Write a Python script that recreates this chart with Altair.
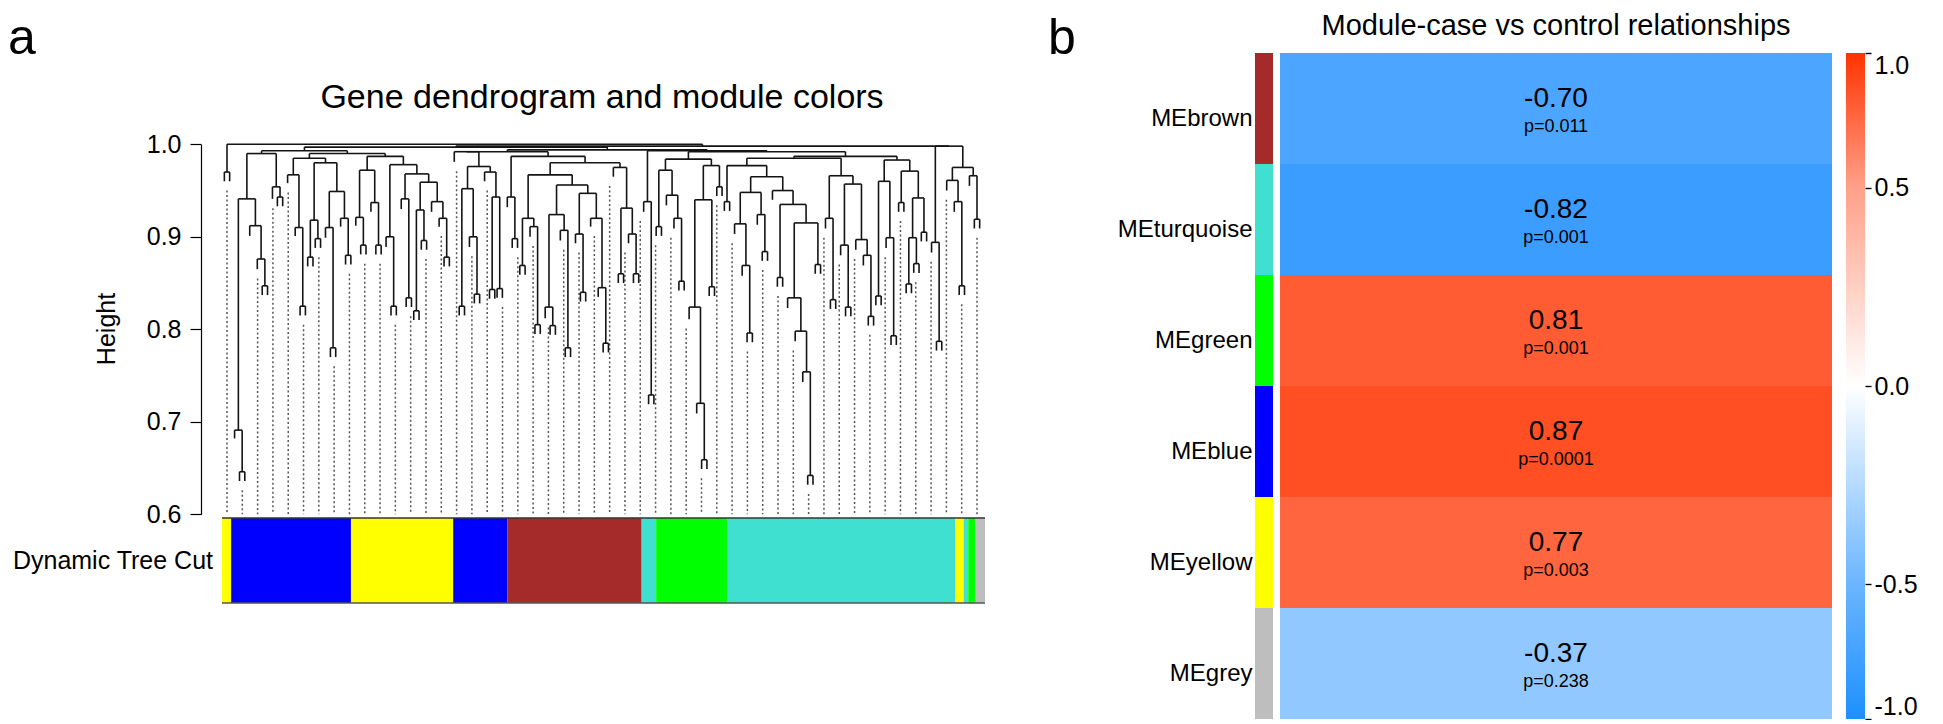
import altair as alt
import numpy as np
import pandas as pd

FONT = "Liberation Sans, Arial, Helvetica, sans-serif"

# ---------------- data: gene dendrogram ----------------
# node = [merge height, left, right]; bare number = small leaf cluster at that height;
# [h] = single branch ending at height h
S0 = 0.970
S1 = [0.990, [0.941, [0.691, [0.682], 0.646], [0.912, [0.901], [0.876, [0.865], 0.847]]],
      [0.954, [0.941], 0.943]]
S2 = [0.985, [0.967, [0.958], [0.910, [0.901], 0.825]],
      [0.980, [0.918, 0.878, 0.898], [0.949, [0.910, [0.899], 0.780], [0.920, [0.911], 0.880]]]]
S3 = [0.987, [0.972, [0.921, [0.912], 0.891], [0.937, [0.927], 0.891]],
      [0.978, [0.900, [0.889], 0.825],
       [0.968, [0.941, [0.930], 0.834],
        [0.959, [0.929, 0.820, 0.896], [0.938, [0.927], [0.920, [0.911], 0.878]]]]]]
S4 = [0.992, [0.981], [0.976, [0.952, 0.825, [0.900, [0.889], 0.838]],
                       [0.970, [0.960], [0.943, 0.843, 0.844]]]]
S5 = [0.987, [0.943, [0.932], 0.898],
      [0.980, [0.967, [0.920, 0.869, [0.911, [0.900], 0.805]],
               [0.956, [0.924, [0.824, [0.812], 0.804], [0.907, [0.896], 0.780]],
                [0.947, [0.903, [0.893], 0.840], [0.920, [0.911], [0.845, [0.835], 0.785]]]]],
       [0.975, [0.965], [0.931, 0.860, [0.903, [0.893], 0.860]]]]]
S6 = [0.938, [0.927], 0.729]
S7 = [0.984, [0.972, 0.911, [0.945, [0.934], [0.920, [0.909], 0.852]]],
      [0.977, [0.940, [0.824, [0.811], [0.720, [0.709], 0.659]], 0.846], 0.954]]
S8 = [0.977, 0.938,
      [0.965, [0.948, [0.914, [0.903], [0.869, [0.858], 0.796]], [0.924, [0.913], 0.884]],
       [0.950, [0.940],
        [0.935, 0.856, [0.915, [0.834, [0.823], [0.798, [0.787], [0.754, [0.743], 0.642]]], 0.870]]]]]
S9 = [0.966, [0.920, [0.909], 0.832],
      [0.957, [0.891, [0.880], 0.824], [0.897, [0.886], [0.880, [0.869], 0.814]]]]
S10 = [0.983, [0.960, 0.836, [0.899, [0.888], 0.793]],
       [0.971, 0.937, [0.942, [0.899, 0.849, 0.871], 0.905]]]
S11 = [0.894, [0.883], 0.787]
S12 = [0.975, [0.961, [0.950], [0.938, [0.927], 0.847]], [0.966, [0.955], 0.919]]

TREE = [1.000, S0,
        [0.998,
         [0.997,
          [0.993, S1, [0.990, S2, S3]],
          [0.994, [0.992, S4, S5],
           [0.993, S6, [0.992, S7, [0.987, [0.985, S8, S9], S10]]]]],
         [0.998, S11, S12]]]

# module colour bar (Dynamic Tree Cut), edges as fractions of leaf order
mod_names = ["yellow", "blue", "yellow", "blue", "brown", "turquoise", "green",
             "turquoise", "yellow", "turquoise", "green", "grey"]
mod_edges = [0.0, 0.012, 0.169, 0.303, 0.374, 0.550, 0.569, 0.662, 0.961, 0.972, 0.978, 0.987, 1.0]
R_COLORS = {"yellow": "#FFFF00", "blue": "#0000FF", "brown": "#A52A2A",
            "turquoise": "#40E0D0", "green": "#00FF00", "grey": "#BEBEBE"}

# ---------------- data: module-trait heatmap ----------------
modules = ["MEbrown", "MEturquoise", "MEgreen", "MEblue", "MEyellow", "MEgrey"]
cor_vals = [-0.70, -0.82, 0.81, 0.87, 0.77, -0.37]
p_vals = ["0.011", "0.001", "0.001", "0.0001", "0.003", "0.238"]
cbar_ticks = [-1.0, -0.5, 0.0, 0.5, 1.0]
cbar_cols = ["#1E90FF", "#6BB5FF", "#FFFFFF", "#FFA088", "#FF3300"]

# ---------------- dendrogram layout ----------------
LEG = 0.010
segs, leaves = [], []


def lay(node):
    if isinstance(node, (int, float)):
        i = len(leaves)
        leaves.append((i, node - LEG))
        segs.append((i - 0.35, i + 0.35, node, node))
        segs.append((i - 0.35, i - 0.35, node, node - LEG))
        segs.append((i + 0.35, i + 0.35, node, node - LEG))
        return i, node
    if len(node) == 1:
        i = len(leaves)
        leaves.append((i, node[0]))
        return i, node[0]
    h, l, r = node
    xl, hl = lay(l)
    xr, hr = lay(r)
    segs.append((xl, xr, h, h))
    segs.append((xl, xl, h, hl))
    segs.append((xr, xr, h, hr))
    return (xl + xr) / 2, h


lay(TREE)
N = len(leaves)
seg_df = pd.DataFrame(segs, columns=["x", "x2", "y", "y2"])
leaf_bottom = np.array([b for _, b in leaves])
gx = np.linspace(0, N - 1, 50)
gstart = [leaf_bottom[int(round(g))] - 0.010 for g in gx]
guide_df = pd.DataFrame({"x": gx, "y": gstart, "y2": 0.6})

mod_df = pd.DataFrame({"start": mod_edges[:-1], "end": mod_edges[1:],
                       "hex": [R_COLORS[m] for m in mod_names]})

hm_df = pd.DataFrame({"module": modules, "cor": cor_vals,
                      "label": [f"{v:.2f}" for v in cor_vals],
                      "ptext": ["p=" + p for p in p_vals],
                      "hex": [R_COLORS[m[2:]] for m in modules]})

# ---------------- geometry (chart pixels) ----------------
W, H = 1925, 712
DX0, DX1 = 219, 969          # first / last leaf
BX0, BX1 = 214, 977          # colour bar
DY0, DY1 = 506.3, 136.3      # height 0.6 / 1.0
HX0, HX1 = 1272, 1824        # heatmap
HY0, HY1 = 45, 711
CB0, CB1 = 1838, 1857        # colour key
EXP = 0.75

xs_d = alt.Scale(domain=[0, N - 1], range=[DX0, DX1], zero=False, nice=False)
ys_d = alt.Scale(domain=[0.6, 1.0], range=[DY0, DY1], zero=False, nice=False)

dendro = alt.Chart(seg_df).mark_rule(color="#141414", strokeWidth=1.6).encode(
    x=alt.X("x:Q", scale=xs_d, axis=None),
    x2="x2:Q",
    y=alt.Y("y:Q", scale=ys_d,
            axis=alt.Axis(orient="left", offset=-193, values=[0.6, 0.7, 0.8, 0.9, 1.0],
                          format=".1f", tickSize=11, tickColor="black", tickWidth=1.2,
                          domainColor="black", domainWidth=1.2, labelFontSize=25,
                          labelFont=FONT, labelColor="black", labelPadding=9,
                          grid=False, title=None)),
    y2="y2:Q",
)

guides = alt.Chart(guide_df).mark_rule(color="#555555", strokeWidth=1.5,
                                       strokeDash=[2, 2.5]).encode(
    x=alt.X("x:Q", scale=xs_d, axis=None),
    y=alt.Y("y:Q", scale=ys_d, axis=None),
    y2="y2:Q",
)

xs_b = alt.Scale(domain=[0, 1], range=[BX0, BX1], zero=False, nice=False)
modbar = alt.Chart(mod_df).mark_rect().encode(
    x=alt.X("start:Q", scale=xs_b, axis=None),
    x2="end:Q",
    y=alt.value(510), y2=alt.value(595),
    color=alt.Color("hex:N", scale=None, legend=None),
)
one = pd.DataFrame({"k": [0]})
bar_top = alt.Chart(one).mark_rule(color="#333333", strokeWidth=1.5).encode(
    x=alt.value(BX0), x2=alt.value(BX1), y=alt.value(510))
bar_bot = alt.Chart(one).mark_rule(color="#555555", strokeWidth=1.5).encode(
    x=alt.value(BX0), x2=alt.value(BX1), y=alt.value(595))

ys_h = alt.Scale(domain=modules, range=[HY0, HY1], paddingInner=0, paddingOuter=0)
cscale = alt.Scale(domain=cbar_ticks, range=cbar_cols, interpolate="rgb")

heat = alt.Chart(hm_df).mark_rect().encode(
    y=alt.Y("module:N", scale=ys_h, sort=modules,
            axis=alt.Axis(orient="left", offset=-1247, ticks=False, domain=False,
                          labelFontSize=24, labelFont=FONT, labelColor="black",
                          labelPadding=3, labelOffset=10, title=None, grid=False)),
    x=alt.value(HX0), x2=alt.value(HX1),
    color=alt.Color("cor:Q", scale=cscale, legend=None),
)
strip = alt.Chart(hm_df).mark_rect().encode(
    y=alt.Y("module:N", scale=ys_h, sort=modules, axis=None),
    x=alt.value(1247), x2=alt.value(1265),
    color=alt.Color("hex:N", scale=None, legend=None),
)
val_txt = alt.Chart(hm_df).mark_text(fontSize=28, font=FONT, color="black", dy=-10).encode(
    y=alt.Y("module:N", scale=ys_h, sort=modules, axis=None),
    x=alt.value((HX0 + HX1) / 2), text="label:N")
p_txt = alt.Chart(hm_df).mark_text(fontSize=18, font=FONT, color="black", dy=18).encode(
    y=alt.Y("module:N", scale=ys_h, sort=modules, axis=None),
    x=alt.value((HX0 + HX1) / 2), text="ptext:N")

# colour key with gradient matching the cell colour scale
stop_pos = [0.5 + 0.5 * np.sign(v) * abs(v) ** EXP for v in cbar_ticks]
grad = alt.LinearGradient(gradient="linear", x1=0, x2=0, y1=1, y2=0,
                          stops=[alt.GradientStop(color=c, offset=float(o))
                                 for c, o in zip(cbar_cols, stop_pos)])
cb_df = pd.DataFrame({"lo": [-1.0], "hi": [1.0]})
ckey = alt.Chart(cb_df).mark_rect(color=grad).encode(
    y=alt.Y("lo:Q", scale=alt.Scale(type="pow", exponent=EXP, domain=[-1, 1],
                                    range=[HY1, HY0], zero=False, nice=False),
            axis=alt.Axis(orient="right", offset=CB1 - W, values=cbar_ticks,
                          labelExpr="datum.value < 0 ? '-' + format(-datum.value, '.1f') : format(datum.value, '.1f')",
                          tickSize=6, tickColor="black", tickWidth=1.4, domain=False,
                          labelFlush=True, labelFontSize=25, labelFont=FONT,
                          labelColor="black", labelPadding=3, grid=False, title=None)),
    y2="hi:Q",
    x=alt.value(CB0), x2=alt.value(CB1),
)


def txt(t, x, y, size, **kw):
    return alt.Chart(pd.DataFrame({"t": [t]})).mark_text(
        fontSize=size, font=FONT, color="black", **kw).encode(
        x=alt.value(x), y=alt.value(y), text="t:N")


texts = [
    txt("a", 0, 46, 50, align="left", baseline="alphabetic"),
    txt("b", 1040, 46, 50, align="left", baseline="alphabetic"),
    txt("Gene dendrogram and module colors", 594, 100, 34, align="center", baseline="alphabetic"),
    txt("Module-case vs control relationships", 1548, 27, 29, align="center", baseline="alphabetic"),
    txt("Height", 99, 321, 25, align="center", baseline="middle", angle=270),
    txt("Dynamic Tree Cut", 205, 553, 25, align="right", baseline="middle"),
]

chart = alt.layer(
    guides, dendro, modbar, bar_top, bar_bot, heat, strip, val_txt, p_txt, ckey, *texts
).resolve_scale(x="independent", y="independent", color="independent").resolve_axis(
    x="independent", y="independent"
).properties(
    width=W, height=H, autosize=alt.AutoSizeParams(type="none"), padding=0
).configure_view(stroke=None)

chart.save("out.html", embed_options={"renderer": "svg", "actions": False})
